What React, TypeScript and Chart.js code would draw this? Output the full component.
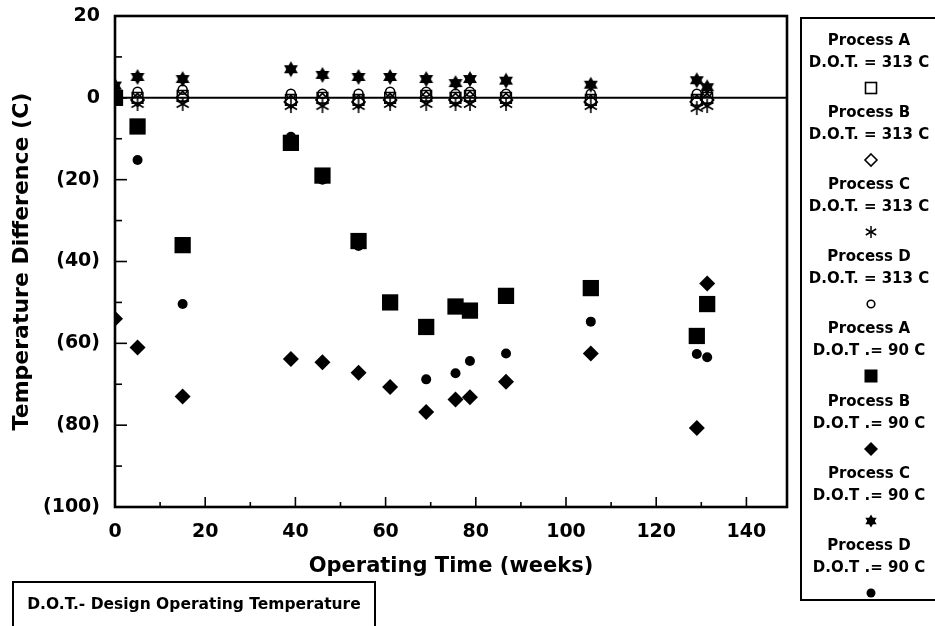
import React, { useEffect, useRef } from 'react';
import { Chart, registerables } from 'chart.js';

Chart.register(...registerables);

// ---- data ----
const weeks = [0, 5, 15, 39, 46, 54, 61, 69, 75.5, 78.7, 86.7, 105.5, 129, 131.3];

// D.O.T. = 313 C
const procA313 = [0.5, 0, 0.5, -0.5, 0, -0.5, 0, 0.5, 0, 0.5, 0, -0.5, -0.5, 0];
const procB313 = [0, -0.5, 0, -1, -0.5, -1, -0.5, 0, -0.5, 0, -0.5, -1, -1, -0.5];
const procC313 = [-1, -1.5, -1.5, -2, -2, -2, -1.5, -1.5, -1.5, -1.5, -1.5, -2, -2.5, -2];
const procD313 = [1.5, 1.5, 2, 1, 1, 1, 1.5, 1.5, 1, 1.5, 1, 1, 1, 1.5];

// D.O.T. = 90 C
const procA90 = [0, -7, -36, -11, -19, -35, -50, -56, -51, -52, -48.4, -46.5, -58.2, -50.4];
const procB90 = [-54, -61, -73, -63.8, -64.6, -67.2, -70.7, -76.8, -73.7, -73.2, -69.4, -62.5, -80.7, -45.4];
const procC90 = [3, 5.1, 4.6, 7, 5.6, 5.1, 5.1, 4.6, 3.6, 4.6, 4.2, 3.2, 4.3, 2.6];
const procD90 = [1, -15.2, -50.4, -9.5, -20, -36.2, -50.5, -68.8, -67.3, -64.3, -62.5, -54.7, -62.6, -63.4];

const xMin = 0;
const xMax = 149;
const yMin = -100;
const yMax = 20;
const xTickValues = [0, 20, 40, 60, 80, 100, 120, 140];
const yTickValues = [20, 0, -20, -40, -60, -80, -100];

const legendTitles = [
  'Process A', 'Process B', 'Process C', 'Process D',
  'Process A', 'Process B', 'Process C', 'Process D',
];
const legendSubs = [
  'D.O.T. = 313 C', 'D.O.T. = 313 C', 'D.O.T. = 313 C', 'D.O.T. = 313 C',
  'D.O.T .= 90 C', 'D.O.T .= 90 C', 'D.O.T .= 90 C', 'D.O.T .= 90 C',
];
const legendKinds = ['openSquare', 'openDiamond', 'asterisk', 'openCircle', 'square', 'diamond', 'hexagram', 'dot'];

const FONT = "'DejaVu Sans', sans-serif";

function makeCanvas(size: number, draw: (ctx: CanvasRenderingContext2D, s: number) => void) {
  const c = document.createElement('canvas');
  c.width = size;
  c.height = size;
  const ctx = c.getContext('2d') as CanvasRenderingContext2D;
  draw(ctx, size);
  return c;
}

function hexagramCanvas(size: number, R: number) {
  return makeCanvas(size, (ctx, s) => {
    const cx = s / 2, cy = s / 2;
    ctx.fillStyle = '#000';
    for (const off of [-Math.PI / 2, Math.PI / 2]) {
      ctx.beginPath();
      for (let i = 0; i < 3; i++) {
        const a = off + (i * 2 * Math.PI) / 3;
        const px = cx + R * Math.cos(a), py = cy + R * Math.sin(a);
        if (i === 0) ctx.moveTo(px, py); else ctx.lineTo(px, py);
      }
      ctx.closePath();
      ctx.fill();
    }
  });
}

function asteriskCanvas(size: number, R: number) {
  return makeCanvas(size, (ctx, s) => {
    const cx = s / 2, cy = s / 2;
    ctx.strokeStyle = '#000';
    ctx.lineWidth = 1.6;
    for (const deg of [90, 30, 150]) {
      const a = (deg * Math.PI) / 180;
      ctx.beginPath();
      ctx.moveTo(cx - R * Math.cos(a), cy - R * Math.sin(a));
      ctx.lineTo(cx + R * Math.cos(a), cy + R * Math.sin(a));
      ctx.stroke();
    }
  });
}

const framePlugin = {
  id: 'frameTicks',
  beforeDatasetsDraw(chart: any) {
    const { ctx, chartArea: a, scales } = chart;
    const y0 = scales.y.getPixelForValue(0);
    ctx.save();
    ctx.strokeStyle = '#000';
    ctx.lineWidth = 2;
    ctx.beginPath();
    ctx.moveTo(a.left, y0);
    ctx.lineTo(a.right, y0);
    ctx.stroke();
    ctx.restore();
  },
  beforeDatasetDraw(chart: any) {
    const { ctx, chartArea: a } = chart;
    ctx.save();
    ctx.beginPath();
    ctx.rect(a.left, a.top, a.right - a.left, a.bottom - a.top);
    ctx.clip();
  },
  afterDatasetDraw(chart: any) {
    chart.ctx.restore();
  },
  afterDatasetsDraw(chart: any) {
    const { ctx, chartArea: a, scales } = chart;
    ctx.save();
    ctx.strokeStyle = '#000';
    ctx.lineWidth = 1.6;
    for (let v = yMin; v <= yMax; v += 10) {
      const py = scales.y.getPixelForValue(v);
      const len = v % 20 === 0 ? 12 : 7;
      ctx.beginPath();
      ctx.moveTo(a.left, py);
      ctx.lineTo(a.left + len, py);
      ctx.stroke();
    }
    for (let v = 10; v <= 140; v += 10) {
      const px = scales.x.getPixelForValue(v);
      const len = v % 20 === 0 ? 10 : 5;
      ctx.beginPath();
      ctx.moveTo(px, a.bottom);
      ctx.lineTo(px, a.bottom - len);
      ctx.stroke();
    }
    ctx.lineWidth = 2.6;
    ctx.strokeRect(a.left, a.top, a.right - a.left, a.bottom - a.top);
    ctx.restore();
  },
};

function pts(vals: number[]) {
  return weeks.map((w, i) => ({ x: w, y: vals[i] }));
}

function LegendSymbol({ kind }: { kind: string }) {
  const s = 16;
  const c = s / 2;
  let el: any = null;
  if (kind === 'openSquare') el = <rect x={2.5} y={2.5} width={11} height={11} fill="none" stroke="#000" strokeWidth={1.6} />;
  else if (kind === 'openDiamond') el = <polygon points={`${c},${c - 6} ${c + 6},${c} ${c},${c + 6} ${c - 6},${c}`} fill="none" stroke="#000" strokeWidth={1.6} />;
  else if (kind === 'asterisk') {
    const R = 6;
    el = (
      <g stroke="#000" strokeWidth={1.5}>
        {[90, 30, 150].map((d) => {
          const a = (d * Math.PI) / 180;
          return <line key={d} x1={c - R * Math.cos(a)} y1={c - R * Math.sin(a)} x2={c + R * Math.cos(a)} y2={c + R * Math.sin(a)} />;
        })}
      </g>
    );
  } else if (kind === 'openCircle') el = <circle cx={c} cy={c} r={3.8} fill="none" stroke="#000" strokeWidth={1.6} />;
  else if (kind === 'square') el = <rect x={1.5} y={1.5} width={13} height={13} fill="#000" />;
  else if (kind === 'diamond') el = <polygon points={`${c},${c - 7} ${c + 7},${c} ${c},${c + 7} ${c - 7},${c}`} fill="#000" />;
  else if (kind === 'hexagram') {
    const R = 6.5;
    const tri = (off: number) =>
      [0, 1, 2].map((i) => {
        const a = off + (i * 2 * Math.PI) / 3;
        return `${c + R * Math.cos(a)},${c + R * Math.sin(a)}`;
      }).join(' ');
    el = (
      <g fill="#000">
        <polygon points={tri(-Math.PI / 2)} />
        <polygon points={tri(Math.PI / 2)} />
      </g>
    );
  } else if (kind === 'dot') el = <circle cx={c} cy={c} r={4.5} fill="#000" />;
  return (
    <svg width={s} height={s} style={{ display: 'block' }}>
      {el}
    </svg>
  );
}

export default function App() {
  const canvasRef = useRef<HTMLCanvasElement | null>(null);

  useEffect(() => {
    document.body.style.margin = '0';
    const canvas = canvasRef.current;
    if (!canvas) return;

    const hexagram = hexagramCanvas(18, 8);
    const asterisk = asteriskCanvas(16, 7);

    const base = { showLine: false };

    const chart = new Chart(canvas, {
      type: 'scatter',
      data: {
        datasets: [
          { ...base, label: 'Process A 90', data: pts(procA90), pointStyle: 'rect', pointRadius: 11.5, backgroundColor: '#000', borderColor: '#000', borderWidth: 0 },
          { ...base, label: 'Process B 90', data: pts(procB90), pointStyle: 'rectRot', pointRadius: 8, backgroundColor: '#000', borderColor: '#000', borderWidth: 0 },
          { ...base, label: 'Process C 90', data: pts(procC90), pointStyle: hexagram as any, pointRadius: 8 },
          { ...base, label: 'Process D 90', data: pts(procD90), pointStyle: 'circle', pointRadius: 5, backgroundColor: '#000', borderColor: '#000', borderWidth: 0 },
          { ...base, label: 'Process A 313', data: pts(procA313), pointStyle: 'rect', pointRadius: 7.5, backgroundColor: 'rgba(0,0,0,0)', borderColor: '#000', borderWidth: 1.6 },
          { ...base, label: 'Process B 313', data: pts(procB313), pointStyle: 'rectRot', pointRadius: 6.5, backgroundColor: 'rgba(0,0,0,0)', borderColor: '#000', borderWidth: 1.6 },
          { ...base, label: 'Process C 313', data: pts(procC313), pointStyle: asterisk as any, pointRadius: 7 },
          { ...base, label: 'Process D 313', data: pts(procD313), pointStyle: 'circle', pointRadius: 4.5, backgroundColor: 'rgba(0,0,0,0)', borderColor: '#000', borderWidth: 1.6 },
        ],
      },
      options: {
        animation: false,
        responsive: false,
        maintainAspectRatio: false,
        layout: { padding: { top: 16, right: 148, bottom: 0, left: 0 } },
        plugins: { legend: { display: false }, tooltip: { enabled: false } },
        scales: {
          x: {
            type: 'linear',
            min: xMin,
            max: xMax,
            grid: { display: false, drawTicks: false },
            border: { display: false },
            ticks: {
              color: '#000',
              font: { family: FONT, size: 19, weight: 'bold' },
              padding: 14,
              maxRotation: 0,
              autoSkip: false,
            },
            afterBuildTicks: (scale: any) => {
              scale.ticks = xTickValues.map((v) => ({ value: v }));
            },
            title: {
              display: true,
              text: 'Operating Time (weeks)',
              color: '#000',
              font: { family: FONT, size: 21, weight: 'bold' },
              padding: { top: 0, bottom: 47 },
            },
            afterFit: (scale: any) => {
              scale.height = 119;
              scale.paddingLeft = 0;
              scale.paddingRight = 0;
            },
          },
          y: {
            type: 'linear',
            min: yMin,
            max: yMax,
            grid: { display: false, drawTicks: false },
            border: { display: false },
            ticks: {
              color: '#000',
              font: { family: FONT, size: 19, weight: 'bold' },
              padding: 15,
              autoSkip: false,
              callback: (v: any) => (Number(v) < 0 ? `(${-Number(v)})` : `${v}`),
            },
            afterBuildTicks: (scale: any) => {
              scale.ticks = yTickValues.slice().reverse().map((v) => ({ value: v }));
            },
            title: {
              display: true,
              text: 'Temperature Difference (C)',
              color: '#000',
              font: { family: FONT, size: 22, weight: 'bold' },
              padding: { top: 9, bottom: 0 },
            },
            afterFit: (scale: any) => {
              scale.width = 115;
              scale.paddingTop = 0;
              scale.paddingBottom = 0;
            },
          },
        },
      },
      plugins: [framePlugin],
    });

    return () => {
      chart.destroy();
    };
  }, []);

  const legendLeft = 800;
  const legendCenter = 69;

  return (
    <div style={{ position: 'relative', width: 935, height: 626, overflow: 'hidden', background: '#fff' }}>
      <canvas ref={canvasRef} width={935} height={626} style={{ position: 'absolute', left: 0, top: 0, width: 935, height: 626 }} />
      <div
        style={{
          position: 'absolute',
          left: legendLeft,
          top: 17,
          width: 160,
          height: 584,
          borderLeft: '2.5px solid #000',
          borderTop: '2.5px solid #000',
          borderBottom: '2.5px solid #000',
          boxSizing: 'border-box',
        }}
      />
      {legendTitles.map((t, k) => {
        const y1 = 41 + 72.1 * k;
        return (
          <React.Fragment key={k}>
            <div style={{ position: 'absolute', left: legendLeft + legendCenter - 80, width: 160, top: y1 - 10, height: 20, lineHeight: '20px', textAlign: 'center', font: `bold 15px ${FONT}`, color: '#000', whiteSpace: 'nowrap' }}>{t}</div>
            <div style={{ position: 'absolute', left: legendLeft + legendCenter - 80, width: 160, top: y1 + 22 - 10, height: 20, lineHeight: '20px', textAlign: 'center', font: `bold 15px ${FONT}`, color: '#000', whiteSpace: 'nowrap' }}>{legendSubs[k]}</div>
            <div style={{ position: 'absolute', left: legendLeft + legendCenter + 2 - 8, top: y1 + 47 - 8 }}>
              <LegendSymbol kind={legendKinds[k]} />
            </div>
          </React.Fragment>
        );
      })}
      <div
        style={{
          position: 'absolute',
          left: 12,
          top: 581,
          width: 364,
          height: 60,
          border: '2.5px solid #000',
          boxSizing: 'border-box',
        }}
      />
      <div style={{ position: 'absolute', left: 12, width: 364, top: 595, height: 20, lineHeight: '20px', textAlign: 'center', font: `bold 15.5px ${FONT}`, color: '#000', whiteSpace: 'nowrap' }}>
        D.O.T.- Design Operating Temperature
      </div>
    </div>
  );
}
